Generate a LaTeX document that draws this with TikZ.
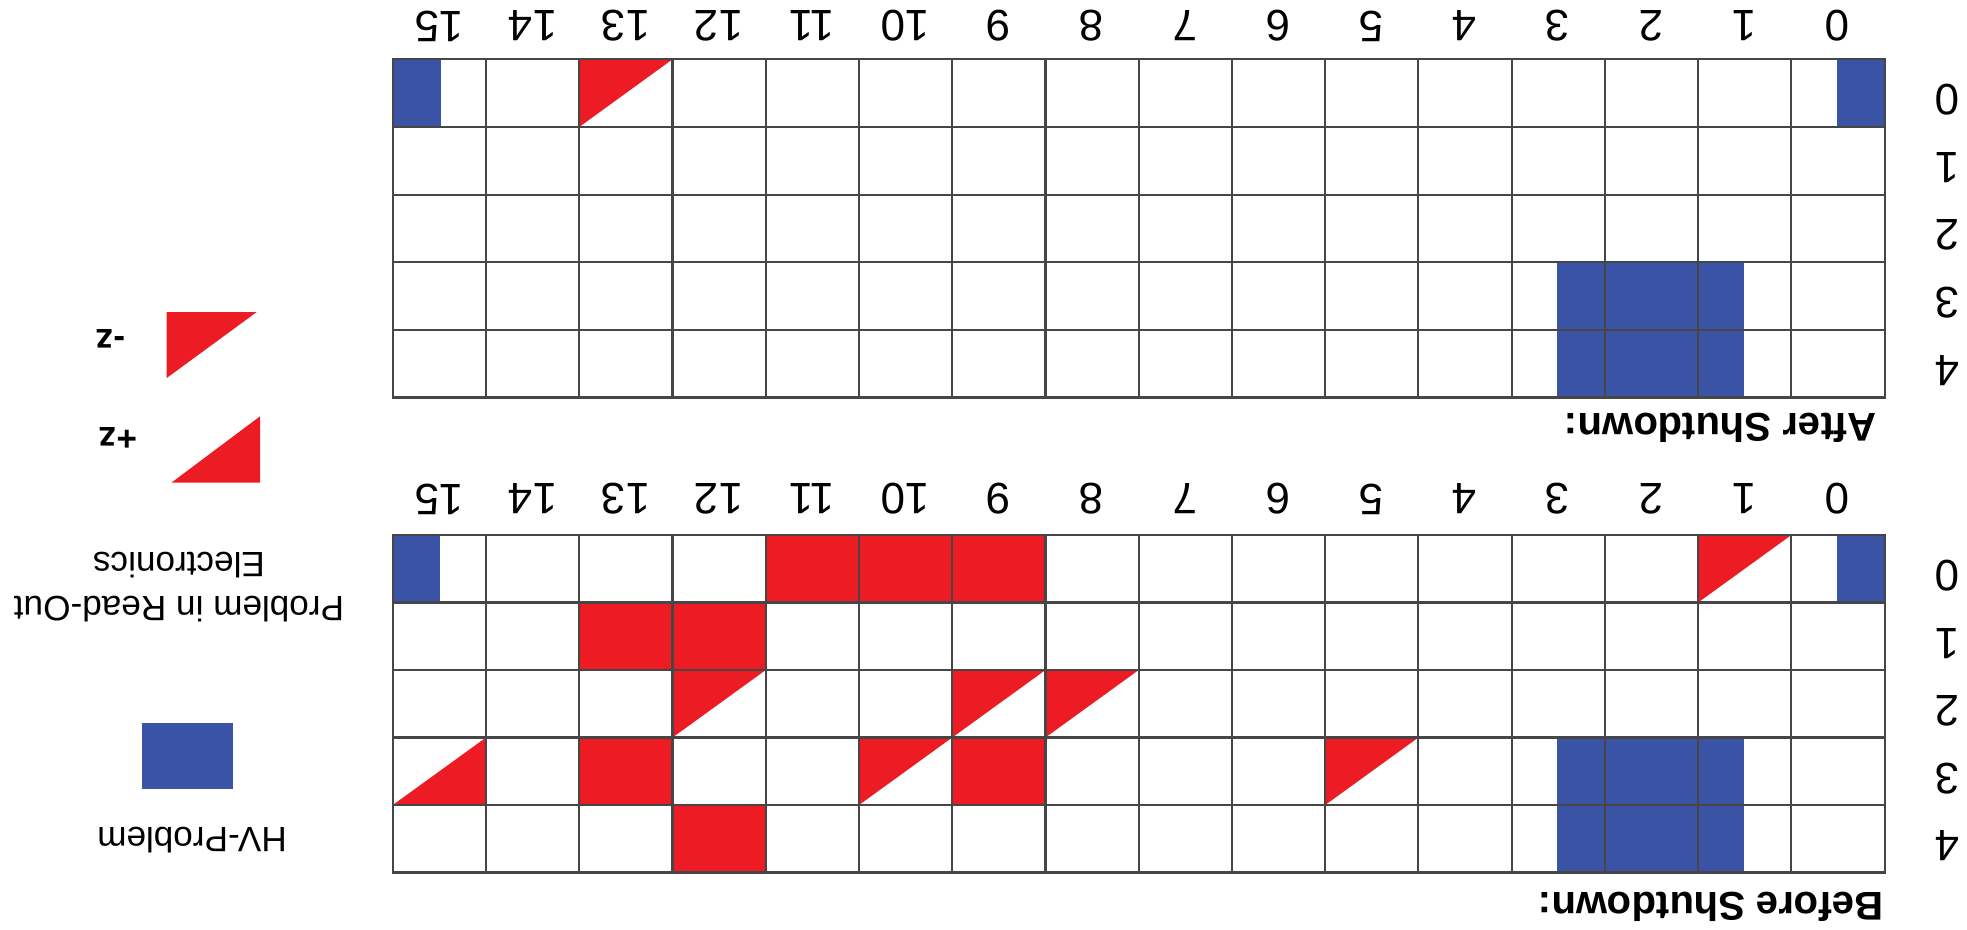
\documentclass[tikz,border=0pt]{standalone}
\usepackage{fontspec}
\setmainfont{Liberation Sans}
\definecolor{hvblue}{RGB}{58,83,164}
\definecolor{rored}{RGB}{237,28,36}
\definecolor{gridgray}{RGB}{70,70,70}
\newcommand\zminus[2]{\fill[rored] (#1,#2) -- ++(1,0) -- ++(-1,1) -- cycle;}
\newcommand\zplus[2]{\fill[rored] (#1,#2+1) -- ++(1,0) -- ++(0,-1) -- cycle;}
\newcommand\chgrid{%
  \foreach \i in {0,...,16} \draw[gridline] (\i,0) -- (\i,5);
  \foreach \j in {0,...,5} \draw[gridline] (0,\j) -- (16,\j);}
\begin{document}
\begin{tikzpicture}[x=0.01cm, y=-0.01cm,
  lbl/.style={inner sep=0pt, rotate=180, font=\fontsize{12.5}{14}\selectfont},
  head/.style={inner sep=0pt, rotate=180, font=\bfseries\fontsize{11.4}{13}\selectfont},
  leg/.style={inner sep=0pt, rotate=180, align=center, font=\fontsize{10}{12.5}\selectfont},
  legb/.style={inner sep=0pt, rotate=180, font=\bfseries\fontsize{10}{12}\selectfont},
  gridline/.style={draw=gridgray, line width=0.6pt, line cap=rect}]
\useasboundingbox (0,0) rectangle (1967,929);
\fill[white] (0,0) rectangle (1967,929);

% ---------- After Shutdown (upper panel) ----------
\begin{scope}[shift={(392.8,59.3)}, x=0.9318cm, y=-0.676cm]
  \fill[hvblue] (0,0) rectangle (0.52,1);
  \fill[hvblue] (15.49,0) rectangle (16,1);
  \fill[hvblue] (12.49,3) rectangle (14.49,5);
  \zminus{2}{0}
  \chgrid
\end{scope}

% ---------- Before Shutdown (lower panel) ----------
\begin{scope}[shift={(392.8,535)}, x=0.9318cm, y=-0.6746cm]
  \fill[hvblue] (0,0) rectangle (0.51,1);
  \fill[hvblue] (15.49,0) rectangle (16,1);
  \fill[hvblue] (12.49,3) rectangle (14.49,5);
  \fill[rored] (4,0) rectangle (7,1);
  \fill[rored] (2,1) rectangle (4,2);
  \fill[rored] (2,3) rectangle (3,4);
  \fill[rored] (6,3) rectangle (7,4);
  \fill[rored] (3,4) rectangle (4,5);
  \zminus{14}{0}
  \zminus{3}{2}
  \zminus{6}{2}
  \zminus{7}{2}
  \zminus{5}{3}
  \zminus{10}{3}
  \zplus{0}{3}
  \chgrid
\end{scope}

% column labels
\foreach \k in {0,...,15} {
  \node[lbl] (acol\k) at ({1883.7-(\k+0.5)*93.18}, 26) {\k};
  \node[lbl] (bcol\k) at ({1883.7-(\k+0.5)*93.18}, 499) {\k};
}
% row labels
\foreach \r in {0,...,4} {
  \node[lbl] (arow\r) at (1947, {59.3+(\r+0.5)*67.6+7}) {\r};
  \node[lbl] (brow\r) at (1947, {535+(\r+0.5)*67.46+7}) {\r};
}

% panel titles
\node[head, anchor=base west] (after) at (1877,413) {After Shutdown:};
\node[head, anchor=base west] (before) at (1884,892) {Before Shutdown:};

% legend
\fill[rored] (166.7,312) -- (256.7,312) -- (166.7,378) -- cycle;
\node[legb] (mz) at (111,339) {-z};
\fill[rored] (171.7,482.5) -- (260,482.5) -- (260,416.3) -- cycle;
\node[legb] (pz) at (118,438) {+z};
\node[leg] (ro) at (179,587) {Problem in Read-Out\\Electronics};
\fill[hvblue] (141.7,723.2) rectangle (233.3,788.6);
\node[leg] (hv) at (192,840) {HV-Problem};
\end{tikzpicture}
\end{document}
